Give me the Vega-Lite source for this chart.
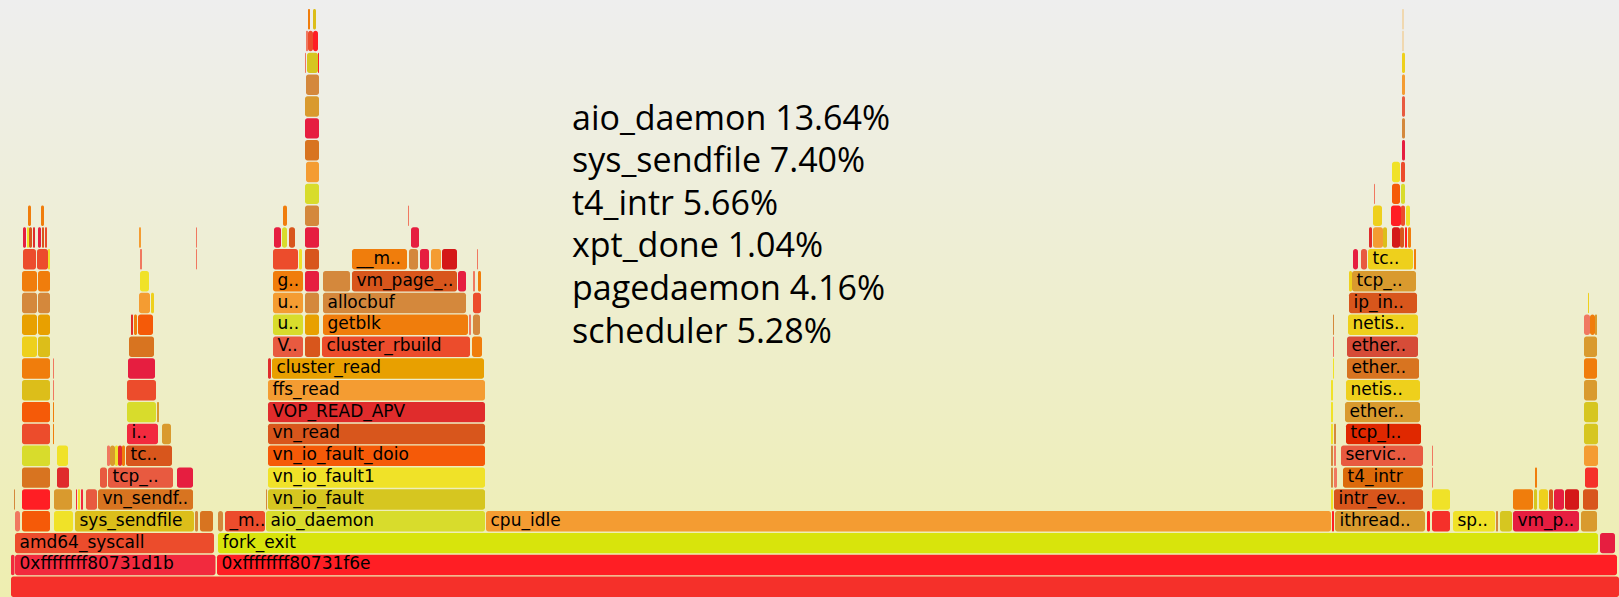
{
  "$schema": "https://vega.github.io/schema/vega-lite/v6.json",
  "width": 1619,
  "height": 597,
  "autosize": {"type": "fit", "contains": "padding"},
  "padding": 0,
  "background": "#eeeeee",
  "view": {"stroke": null, "fill": {"gradient": "linear", "x1": 0, "y1": 0, "x2": 0, "y2": 1, "stops": [{"offset": 0, "color": "#eeeeee"}, {"offset": 1, "color": "#eeeeb0"}]}},
  "datasets": {
    "frames": [
      {"d": 0, "s": 11, "e": 1619, "c": "scarlet"},
      {"d": 1, "s": 11, "e": 14.5, "c": "rose"},
      {"d": 1, "s": 15, "e": 215.5, "c": "rose", "n": "0xffffffff80731d1b"},
      {"d": 1, "s": 217, "e": 1617, "c": "red", "n": "0xffffffff80731f6e"},
      {"d": 2, "s": 15, "e": 214, "c": "vermilion", "n": "amd64_syscall"},
      {"d": 2, "s": 218, "e": 1598, "c": "lime", "n": "fork_exit"},
      {"d": 2, "s": 1600, "e": 1615, "c": "crimson"},
      {"d": 3, "s": 15, "e": 20, "c": "salmon"},
      {"d": 3, "s": 22, "e": 50, "c": "flame"},
      {"d": 3, "s": 54, "e": 73, "c": "yellow"},
      {"d": 3, "s": 75, "e": 194, "c": "gold", "n": "sys_sendfile"},
      {"d": 3, "s": 195, "e": 198, "c": "tan"},
      {"d": 3, "s": 200, "e": 213, "c": "brown"},
      {"d": 3, "s": 218, "e": 223, "c": "tan"},
      {"d": 3, "s": 225, "e": 265, "c": "vermilion", "n": "_m.."},
      {"d": 3, "s": 266, "e": 485, "c": "chartreuse", "n": "aio_daemon"},
      {"d": 3, "s": 486, "e": 1331, "c": "tangerine", "n": "cpu_idle"},
      {"d": 3, "s": 1332, "e": 1334, "c": "red"},
      {"d": 3, "s": 1335, "e": 1425, "c": "ochre", "n": "ithread.."},
      {"d": 3, "s": 1427, "e": 1430, "c": "red"},
      {"d": 3, "s": 1432, "e": 1450, "c": "scarlet"},
      {"d": 3, "s": 1453, "e": 1495, "c": "yellow", "n": "sp.."},
      {"d": 3, "s": 1496, "e": 1498, "c": "tan"},
      {"d": 3, "s": 1500, "e": 1512, "c": "olive"},
      {"d": 3, "s": 1513, "e": 1579, "c": "crimson", "n": "vm_p.."},
      {"d": 3, "s": 1581, "e": 1597, "c": "ochre"},
      {"d": 4, "s": 14, "e": 15, "c": "tan"},
      {"d": 4, "s": 22, "e": 50, "c": "red"},
      {"d": 4, "s": 54, "e": 72, "c": "ochre"},
      {"d": 4, "s": 76, "e": 77, "c": "rose"},
      {"d": 4, "s": 78, "e": 80, "c": "yellow"},
      {"d": 4, "s": 81, "e": 83, "c": "rose"},
      {"d": 4, "s": 86, "e": 97, "c": "coral"},
      {"d": 4, "s": 98, "e": 193, "c": "brown", "n": "vn_sendf.."},
      {"d": 4, "s": 266, "e": 267, "c": "tan"},
      {"d": 4, "s": 268, "e": 485, "c": "olive", "n": "vn_io_fault"},
      {"d": 4, "s": 1331, "e": 1333, "c": "yellow"},
      {"d": 4, "s": 1334, "e": 1423, "c": "rust", "n": "intr_ev.."},
      {"d": 4, "s": 1432, "e": 1450, "c": "yellow"},
      {"d": 4, "s": 1513, "e": 1533, "c": "orange"},
      {"d": 4, "s": 1534, "e": 1537, "c": "olive"},
      {"d": 4, "s": 1539, "e": 1548, "c": "sun"},
      {"d": 4, "s": 1549, "e": 1553, "c": "rust"},
      {"d": 4, "s": 1554, "e": 1564, "c": "crimson"},
      {"d": 4, "s": 1565, "e": 1579, "c": "blood"},
      {"d": 4, "s": 1583, "e": 1598, "c": "rust"},
      {"d": 5, "s": 22, "e": 50, "c": "brown"},
      {"d": 5, "s": 57, "e": 69, "c": "cardinal"},
      {"d": 5, "s": 100, "e": 107, "c": "coral"},
      {"d": 5, "s": 108, "e": 173, "c": "coral", "n": "tcp_.."},
      {"d": 5, "s": 177, "e": 193, "c": "crimson"},
      {"d": 5, "s": 268, "e": 485, "c": "yellow", "n": "vn_io_fault1"},
      {"d": 5, "s": 1331, "e": 1333, "c": "tan"},
      {"d": 5, "s": 1334, "e": 1337, "c": "salmon"},
      {"d": 5, "s": 1343, "e": 1423, "c": "burnt", "n": "t4_intr"},
      {"d": 5, "s": 1432, "e": 1433, "c": "salmon"},
      {"d": 5, "s": 1535, "e": 1537, "c": "orange"},
      {"d": 5, "s": 1585, "e": 1598, "c": "scarlet"},
      {"d": 6, "s": 22, "e": 50, "c": "chartreuse"},
      {"d": 6, "s": 57, "e": 68, "c": "yellow"},
      {"d": 6, "s": 107, "e": 110, "c": "salmon"},
      {"d": 6, "s": 110, "e": 115, "c": "ochre"},
      {"d": 6, "s": 115, "e": 118, "c": "yellow"},
      {"d": 6, "s": 118, "e": 122, "c": "cardinal"},
      {"d": 6, "s": 122, "e": 125, "c": "orange"},
      {"d": 6, "s": 126, "e": 172, "c": "rust", "n": "tc.."},
      {"d": 6, "s": 268, "e": 485, "c": "flame", "n": "vn_io_fault_doio"},
      {"d": 6, "s": 1331, "e": 1333, "c": "tan"},
      {"d": 6, "s": 1334, "e": 1336, "c": "salmon"},
      {"d": 6, "s": 1341, "e": 1423, "c": "coral", "n": "servic.."},
      {"d": 6, "s": 1432, "e": 1433, "c": "salmon"},
      {"d": 6, "s": 1584, "e": 1598, "c": "tangerine"},
      {"d": 7, "s": 22, "e": 50, "c": "vermilion"},
      {"d": 7, "s": 53, "e": 54, "c": "orange"},
      {"d": 7, "s": 127, "e": 158, "c": "rose", "n": "i.."},
      {"d": 7, "s": 162, "e": 171, "c": "ochre"},
      {"d": 7, "s": 268, "e": 485, "c": "rust", "n": "vn_read"},
      {"d": 7, "s": 1331, "e": 1333, "c": "yellow"},
      {"d": 7, "s": 1334, "e": 1336, "c": "tan"},
      {"d": 7, "s": 1346, "e": 1421, "c": "ember", "n": "tcp_l.."},
      {"d": 7, "s": 1584, "e": 1598, "c": "olive"},
      {"d": 8, "s": 22, "e": 50, "c": "flame"},
      {"d": 8, "s": 53, "e": 54, "c": "orange"},
      {"d": 8, "s": 127, "e": 156, "c": "chartreuse"},
      {"d": 8, "s": 157, "e": 159, "c": "ochre"},
      {"d": 8, "s": 268, "e": 485, "c": "cardinal", "n": "VOP_READ_APV"},
      {"d": 8, "s": 1331, "e": 1333, "c": "yellow"},
      {"d": 8, "s": 1345, "e": 1420, "c": "ochre", "n": "ether.."},
      {"d": 8, "s": 1584, "e": 1598, "c": "olive"},
      {"d": 9, "s": 22, "e": 50, "c": "gold"},
      {"d": 9, "s": 53, "e": 54, "c": "salmon"},
      {"d": 9, "s": 127, "e": 156, "c": "vermilion"},
      {"d": 9, "s": 268, "e": 485, "c": "tangerine", "n": "ffs_read"},
      {"d": 9, "s": 1331, "e": 1333, "c": "yellow"},
      {"d": 9, "s": 1346, "e": 1420, "c": "sun", "n": "netis.."},
      {"d": 9, "s": 1584, "e": 1597, "c": "ochre"},
      {"d": 10, "s": 22, "e": 50, "c": "orange"},
      {"d": 10, "s": 53, "e": 54, "c": "salmon"},
      {"d": 10, "s": 128, "e": 155, "c": "crimson"},
      {"d": 10, "s": 268, "e": 271, "c": "cardinal"},
      {"d": 10, "s": 272, "e": 484, "c": "amber", "n": "cluster_read"},
      {"d": 10, "s": 1333, "e": 1334, "c": "yellow"},
      {"d": 10, "s": 1347, "e": 1419, "c": "brown", "n": "ether.."},
      {"d": 10, "s": 1584, "e": 1597, "c": "orange"},
      {"d": 11, "s": 22, "e": 37, "c": "sun"},
      {"d": 11, "s": 38, "e": 50, "c": "gold"},
      {"d": 11, "s": 129, "e": 154, "c": "brown"},
      {"d": 11, "s": 273, "e": 303, "c": "coral", "n": "V.."},
      {"d": 11, "s": 305, "e": 320, "c": "rust"},
      {"d": 11, "s": 322, "e": 470, "c": "vermilion", "n": "cluster_rbuild"},
      {"d": 11, "s": 472, "e": 482, "c": "orange"},
      {"d": 11, "s": 1333, "e": 1334, "c": "salmon"},
      {"d": 11, "s": 1347, "e": 1418, "c": "brick", "n": "ether.."},
      {"d": 11, "s": 1584, "e": 1597, "c": "ochre"},
      {"d": 12, "s": 22, "e": 37, "c": "amber"},
      {"d": 12, "s": 38, "e": 50, "c": "amber"},
      {"d": 12, "s": 131, "e": 133, "c": "cardinal"},
      {"d": 12, "s": 134, "e": 137, "c": "orange"},
      {"d": 12, "s": 138, "e": 153, "c": "flame"},
      {"d": 12, "s": 273, "e": 303, "c": "chartreuse", "n": "u.."},
      {"d": 12, "s": 305, "e": 319, "c": "amber"},
      {"d": 12, "s": 323, "e": 468, "c": "orange", "n": "getblk"},
      {"d": 12, "s": 469, "e": 471, "c": "salmon"},
      {"d": 12, "s": 473, "e": 480, "c": "tan"},
      {"d": 12, "s": 1333, "e": 1334, "c": "tan"},
      {"d": 12, "s": 1348, "e": 1418, "c": "sun", "n": "netis.."},
      {"d": 12, "s": 1584, "e": 1590, "c": "salmon"},
      {"d": 12, "s": 1590, "e": 1595, "c": "orange"},
      {"d": 12, "s": 1595, "e": 1597, "c": "ochre"},
      {"d": 13, "s": 22, "e": 37, "c": "tan"},
      {"d": 13, "s": 38, "e": 50, "c": "tan"},
      {"d": 13, "s": 139, "e": 150, "c": "tangerine"},
      {"d": 13, "s": 151, "e": 154, "c": "sun"},
      {"d": 13, "s": 273, "e": 303, "c": "tangerine", "n": "u.."},
      {"d": 13, "s": 305, "e": 319, "c": "tan"},
      {"d": 13, "s": 323, "e": 466, "c": "tan", "n": "allocbuf"},
      {"d": 13, "s": 473, "e": 481, "c": "vermilion"},
      {"d": 13, "s": 1349, "e": 1417, "c": "rust", "n": "ip_in.."},
      {"d": 13, "s": 1588, "e": 1589, "c": "sun"},
      {"d": 14, "s": 22, "e": 37, "c": "orange"},
      {"d": 14, "s": 38, "e": 50, "c": "orange"},
      {"d": 14, "s": 140, "e": 149, "c": "yellow"},
      {"d": 14, "s": 273, "e": 303, "c": "orange", "n": "g.."},
      {"d": 14, "s": 305, "e": 319, "c": "crimson"},
      {"d": 14, "s": 323, "e": 350, "c": "tan"},
      {"d": 14, "s": 352, "e": 457, "c": "rust", "n": "vm_page_.."},
      {"d": 14, "s": 458, "e": 466, "c": "crimson"},
      {"d": 14, "s": 473, "e": 475, "c": "salmon"},
      {"d": 14, "s": 478, "e": 481, "c": "orange"},
      {"d": 14, "s": 1349, "e": 1352, "c": "sun"},
      {"d": 14, "s": 1352, "e": 1416, "c": "ochre", "n": "tcp_.."},
      {"d": 15, "s": 23, "e": 36, "c": "vermilion"},
      {"d": 15, "s": 37, "e": 48, "c": "vermilion"},
      {"d": 15, "s": 48, "e": 50, "c": "yellow"},
      {"d": 15, "s": 140, "e": 142, "c": "salmon"},
      {"d": 15, "s": 196, "e": 197, "c": "salmon"},
      {"d": 15, "s": 273, "e": 298, "c": "vermilion"},
      {"d": 15, "s": 299, "e": 302, "c": "yellow"},
      {"d": 15, "s": 305, "e": 319, "c": "rust"},
      {"d": 15, "s": 352, "e": 407, "c": "orange", "n": "__m.."},
      {"d": 15, "s": 409, "e": 418, "c": "tan"},
      {"d": 15, "s": 420, "e": 429, "c": "crimson"},
      {"d": 15, "s": 431, "e": 441, "c": "tangerine"},
      {"d": 15, "s": 442, "e": 457, "c": "blood"},
      {"d": 15, "s": 477, "e": 478, "c": "salmon"},
      {"d": 15, "s": 1353, "e": 1358, "c": "crimson"},
      {"d": 15, "s": 1361, "e": 1367, "c": "coral"},
      {"d": 15, "s": 1368, "e": 1413, "c": "sun", "n": "tc.."},
      {"d": 15, "s": 1414, "e": 1416, "c": "orange"},
      {"d": 16, "s": 23, "e": 26, "c": "crimson"},
      {"d": 16, "s": 27, "e": 29, "c": "yellow"},
      {"d": 16, "s": 29, "e": 32, "c": "rust"},
      {"d": 16, "s": 33, "e": 35, "c": "cardinal"},
      {"d": 16, "s": 38, "e": 41, "c": "crimson"},
      {"d": 16, "s": 42, "e": 44, "c": "rust"},
      {"d": 16, "s": 45, "e": 47, "c": "vermilion"},
      {"d": 16, "s": 139, "e": 141, "c": "tangerine"},
      {"d": 16, "s": 196, "e": 197, "c": "salmon"},
      {"d": 16, "s": 274, "e": 281, "c": "crimson"},
      {"d": 16, "s": 282, "e": 287, "c": "chartreuse"},
      {"d": 16, "s": 289, "e": 295, "c": "rust"},
      {"d": 16, "s": 305, "e": 319, "c": "crimson"},
      {"d": 16, "s": 411, "e": 419, "c": "crimson"},
      {"d": 16, "s": 1369, "e": 1372, "c": "cardinal"},
      {"d": 16, "s": 1373, "e": 1383, "c": "tangerine"},
      {"d": 16, "s": 1383, "e": 1387, "c": "gold"},
      {"d": 16, "s": 1392, "e": 1400, "c": "blood"},
      {"d": 16, "s": 1400, "e": 1404, "c": "rust"},
      {"d": 16, "s": 1405, "e": 1407, "c": "red"},
      {"d": 16, "s": 1408, "e": 1411, "c": "orange"},
      {"d": 17, "s": 28, "e": 31, "c": "orange"},
      {"d": 17, "s": 41, "e": 44, "c": "orange"},
      {"d": 17, "s": 283, "e": 287, "c": "orange"},
      {"d": 17, "s": 305, "e": 319, "c": "tan"},
      {"d": 17, "s": 408, "e": 409, "c": "salmon"},
      {"d": 17, "s": 1373, "e": 1382, "c": "sun"},
      {"d": 17, "s": 1391, "e": 1401, "c": "red"},
      {"d": 17, "s": 1401, "e": 1405, "c": "vermilion"},
      {"d": 17, "s": 1406, "e": 1410, "c": "yellow"},
      {"d": 18, "s": 305, "e": 319, "c": "chartreuse"},
      {"d": 18, "s": 1374, "e": 1375, "c": "salmon"},
      {"d": 18, "s": 1392, "e": 1400, "c": "flame"},
      {"d": 18, "s": 1401, "e": 1405, "c": "chartreuse"},
      {"d": 19, "s": 306, "e": 319, "c": "tangerine"},
      {"d": 19, "s": 1392, "e": 1400, "c": "yellow"},
      {"d": 19, "s": 1401, "e": 1405, "c": "vermilion"},
      {"d": 20, "s": 305, "e": 319, "c": "brown"},
      {"d": 20, "s": 1402, "e": 1405, "c": "crimson"},
      {"d": 21, "s": 305, "e": 319, "c": "crimson"},
      {"d": 21, "s": 1402, "e": 1405, "c": "tan"},
      {"d": 22, "s": 305, "e": 319, "c": "ochre"},
      {"d": 22, "s": 1402, "e": 1405, "c": "coral"},
      {"d": 23, "s": 306, "e": 319, "c": "tan"},
      {"d": 23, "s": 1402, "e": 1405, "c": "tangerine"},
      {"d": 24, "s": 305, "e": 306, "c": "salmon"},
      {"d": 24, "s": 307, "e": 318, "c": "olive"},
      {"d": 24, "s": 318, "e": 319, "c": "red"},
      {"d": 24, "s": 1402, "e": 1405, "c": "sun"},
      {"d": 25, "s": 306, "e": 308, "c": "salmon"},
      {"d": 25, "s": 308, "e": 313, "c": "vermilion"},
      {"d": 25, "s": 313, "e": 318, "c": "red"},
      {"d": 25, "s": 1402, "e": 1404, "c": "pale"},
      {"d": 26, "s": 308, "e": 310, "c": "orange"},
      {"d": 26, "s": 313, "e": 316, "c": "gold"},
      {"d": 26, "s": 1402, "e": 1404, "c": "pale"}
    ],
    "note": [
      {"lines": ["aio_daemon 13.64%", "sys_sendfile 7.40%", "t4_intr 5.66%", "xpt_done 1.04%", "pagedaemon 4.16%", "scheduler 5.28%"]}
    ]
  },
  "layer": [
    {
      "data": {"name": "frames"},
      "mark": {"type": "rect", "cornerRadius": 2.5},
      "encoding": {
        "x": {"field": "s", "type": "quantitative", "scale": {"domain": [0, 1619], "nice": false, "zero": false}, "axis": null},
        "x2": {"field": "e"},
        "y": {"field": "d", "type": "ordinal", "scale": {"type": "band", "domain": [0,1,2,3,4,5,6,7,8,9,10,11,12,13,14,15,16,17,18,19,20,21,22,23,24,25,26], "range": [597, 9], "paddingInner": 0.0625, "paddingOuter": 0}, "axis": null},
        "color": {
          "field": "c", "type": "nominal", "legend": null,
          "scale": {
            "domain": ["scarlet","rose","red","crimson","cardinal","blood","vermilion","coral","salmon","flame","rust","brick","burnt","ember","orange","tangerine","amber","ochre","tan","brown","gold","sun","yellow","olive","chartreuse","lime","pale"],
            "range": ["#f5302a","#f22a3e","#ff1e24","#e61e40","#e02c2c","#d41818","#ec4c2c","#e85a40","#f07860","#f55a08","#d8561c","#d64c38","#dc6a0a","#e02800","#f07d0c","#f49c32","#e8a000","#d99a2e","#d4883c","#d87420","#dcbe1a","#eed01c","#f0e228","#d6c620","#d8dc2c","#d8e40c","#f0d8b0"]
          }
        }
      }
    },
    {
      "data": {"name": "frames"},
      "transform": [{"filter": "datum.n"}],
      "mark": {"type": "text", "align": "left", "baseline": "middle", "dx": 4.5, "dy": -0.5, "font": "DejaVu Sans", "fontSize": 17, "color": "#000000"},
      "encoding": {
        "x": {"field": "s", "type": "quantitative"},
        "y": {"field": "d", "type": "ordinal"},
        "text": {"field": "n", "type": "nominal"}
      }
    },
    {
      "data": {"name": "note"},
      "mark": {"type": "text", "align": "left", "baseline": "alphabetic", "dy": 1.2, "font": "Open Sans", "fontSize": 34, "lineHeight": 42.6, "color": "#000000"},
      "encoding": {
        "x": {"datum": 572, "type": "quantitative"},
        "y": {"datum": 21, "type": "ordinal"},
        "text": {"field": "lines", "type": "nominal"}
      }
    }
  ]
}
